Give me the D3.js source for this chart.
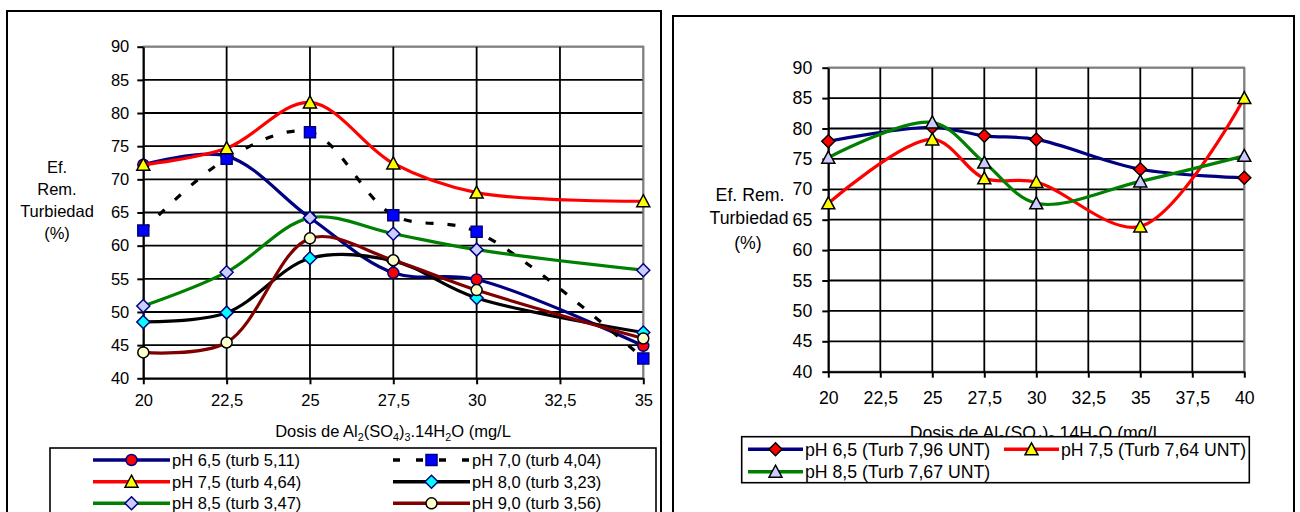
<!DOCTYPE html>
<html>
<head>
<meta charset="utf-8">
<script src="https://cdnjs.cloudflare.com/ajax/libs/d3/7.8.5/d3.min.js"></script>
<style>
  body { margin: 0; background: #fff; }
  svg { display: block; font-family: "Liberation Sans", Arial, sans-serif; }
</style>
</head>
<body>
<div id="visualization"></div>
<script>
// ---- data: left chart (dosis vs. eficiencia, 6 pH levels)
const dosesLeft = [20, 22.5, 25, 27.5, 30, 35];
const ph65Left = [72.2, 73.5, 64.2, 55.9, 54.9, 44.9];
const ph70Left = [62.3, 73.1, 77.1, 64.6, 62.1, 43.0];
const ph75Left = [72.2, 74.7, 81.6, 72.4, 68.0, 66.7];
const ph80Left = [48.5, 49.9, 58.1, 57.7, 52.1, 46.9];
const ph85Left = [50.9, 56.0, 64.2, 61.8, 59.4, 56.3];
const ph90Left = [43.9, 45.4, 61.1, 57.8, 53.3, 46.0];
const xTicksLeft = [20, 22.5, 25, 27.5, 30, 32.5, 35];

// ---- data: right chart (3 pH levels)
const dosesRight = [20, 25, 27.5, 30, 35, 40];
const ph65Right = [77.9, 80.2, 78.8, 78.2, 73.3, 71.9];
const ph75Right = [67.7, 78.2, 71.8, 71.2, 63.9, 85.0];
const ph85Right = [75.2, 81.0, 74.4, 67.7, 71.3, 75.5];
const xTicksRight = [20, 22.5, 25, 27.5, 30, 32.5, 35, 37.5, 40];

const yTicks = [40, 45, 50, 55, 60, 65, 70, 75, 80, 85, 90];

const fmt = d => String(d).replace('.', ',');

const leftSeries = [
    { name: 'pH 6,5 (turb 5,11)', values: ph65Left, line: '#000080', shape: 'circle', fill: '#ff0000', stroke: '#000080' },
    { name: 'pH 7,0 (turb 4,04)', values: ph70Left, line: '#000000', dash: '8,14', shape: 'square', fill: '#0000ff', stroke: '#000080' },
    { name: 'pH 7,5 (turb 4,64)', values: ph75Left, line: '#ff0000', shape: 'triangle', fill: '#ffff00', stroke: '#000000' },
    { name: 'pH 8,0 (turb 3,23)', values: ph80Left, line: '#000000', shape: 'diamond', fill: '#00ffff', stroke: '#000080' },
    { name: 'pH 8,5 (turb 3,47)', values: ph85Left, line: '#008000', shape: 'diamond', fill: '#ccccff', stroke: '#000080' },
    { name: 'pH 9,0 (turb 3,56)', values: ph90Left, line: '#800000', shape: 'circle', fill: '#ffffcc', stroke: '#000000' }
];

const rightSeries = [
    { name: 'pH 6,5 (Turb 7,96 UNT)', values: ph65Right, line: '#000080', shape: 'diamond', fill: '#ff0000', stroke: '#000000' },
    { name: 'pH 7,5 (Turb 7,64 UNT)', values: ph75Right, line: '#ff0000', shape: 'triangle', fill: '#ffff00', stroke: '#000000' },
    { name: 'pH 8,5 (Turb 7,67 UNT)', values: ph85Right, line: '#008000', shape: 'triangle', fill: '#ccccff', stroke: '#000000' }
];

const markerPath = (shape, s) => {
    const h = s / 2;
    if (shape === 'square') return `M${-h},${-h}H${h}V${h}H${-h}Z`;
    if (shape === 'diamond') return `M0,${-h - 1}L${h + 1},0L0,${h + 1}L${-h - 1},0Z`;
    if (shape === 'triangle') return `M0,${-h - 1}L${h + 1},${h}L${-h - 1},${h}Z`;
    return d3.arc()({ innerRadius: 0, outerRadius: h, startAngle: 0, endAngle: 2 * Math.PI });
};

const drawMarker = (g, d, x, y, size) => {
    g.append('path')
        .attr('d', markerPath(d.shape, size))
        .attr('transform', `translate(${x},${y})`)
        .attr('fill', d.fill)
        .attr('stroke', d.stroke)
        .attr('stroke-width', 1.5);
};

// x title with subscripts
const titleDosis = (g, x, y, size) => {
    const t = g.append('text')
        .attr('x', x).attr('y', y)
        .attr('text-anchor', 'middle')
        .attr('font-size', size);
    const parts = [['Dosis de Al'], ['2', 1], ['(SO'], ['4', 1], [')'], ['3', 1], ['.14H'], ['2', 1], ['O (mg/L']];
    let wasSub = false;
    parts.forEach(([txt, sub]) => {
        const ts = t.append('tspan').text(txt);
        if (sub) ts.attr('font-size', size * 0.65).attr('dy', wasSub ? 0 : 4);
        else ts.attr('dy', wasSub ? -4 : 0);
        wasSub = !!sub;
    });
    return t;
};

const makeChart = (svg, cfg, series, doses) => {
    const x = d3.scaleLinear().domain(cfg.xDomain).range(cfg.xRange);
    const y = d3.scaleLinear().domain([40, 90]).range(cfg.yRange);
    const g = svg.append('g');

    // outer frame
    g.append('rect')
        .attr('x', cfg.frame[0]).attr('y', cfg.frame[1])
        .attr('width', cfg.frame[2] - cfg.frame[0]).attr('height', 560)
        .attr('fill', 'none').attr('stroke', '#000').attr('stroke-width', 2);

    // plot area border (gray)
    g.append('rect')
        .attr('x', cfg.xRange[0]).attr('y', cfg.yRange[1])
        .attr('width', cfg.xRange[1] - cfg.xRange[0])
        .attr('height', cfg.yRange[0] - cfg.yRange[1])
        .attr('fill', 'none').attr('stroke', '#808080').attr('stroke-width', 2);

    // grid
    g.append('g')
        .selectAll('line').data(yTicks.slice(1)).enter().append('line')
            .attr('x1', cfg.xRange[0]).attr('x2', cfg.xRange[1])
            .attr('y1', d => y(d)).attr('y2', d => y(d))
            .attr('stroke', d => d === 90 ? '#808080' : '#000').attr('stroke-width', 1.8);
    g.append('g')
        .selectAll('line').data(cfg.xTicks.slice(1)).enter().append('line')
            .attr('x1', d => x(d)).attr('x2', d => x(d))
            .attr('y1', cfg.yRange[0]).attr('y2', cfg.yRange[1])
            .attr('stroke', d => d === cfg.xDomain[1] ? '#808080' : '#000').attr('stroke-width', 1.8);

    // axes
    const ax = g.append('g')
        .attr('transform', `translate(0,${cfg.yRange[0]})`)
        .call(d3.axisBottom(x).tickValues(cfg.xTicks).tickSize(6).tickSizeOuter(0).tickPadding(cfg.xPad).tickFormat(fmt));
    const ay = g.append('g')
        .attr('transform', `translate(${cfg.xRange[0]},0)`)
        .call(d3.axisLeft(y).tickValues(yTicks).tickSize(6).tickSizeOuter(0).tickPadding(cfg.yPad).tickFormat(fmt));
    [ax, ay].forEach(a => {
        a.selectAll('path, line').attr('stroke', '#000').attr('stroke-width', 2);
        a.selectAll('text').attr('font-size', cfg.font).attr('fill', '#000')
            .attr('font-family', '"Liberation Sans", Arial, sans-serif');
    });

    // y title
    cfg.yTitle.forEach(([txt, tx, ty]) => {
        g.append('text').attr('x', tx).attr('y', ty)
            .attr('text-anchor', 'middle').attr('font-size', cfg.font).text(txt);
    });

    // x title
    titleDosis(g, cfg.xTitle[0], cfg.xTitle[1], cfg.font);

    // series
    const line = d3.line()
        .x(d => x(d[0])).y(d => y(d[1]))
        .curve(d3.curveCatmullRom.alpha(0.5));
    series.forEach(s => {
        const pts = doses.map((dose, i) => [dose, s.values[i]]);
        g.append('path')
            .attr('d', line(pts))
            .attr('fill', 'none')
            .attr('stroke', s.line)
            .attr('stroke-width', 3.2)
            .attr('stroke-dasharray', s.dash || null);
        pts.forEach(p => drawMarker(g, s, x(p[0]), y(p[1]), cfg.marker));
    });

    // legend
    const lg = g.append('g');
    lg.append('rect')
        .attr('x', cfg.legend.box[0]).attr('y', cfg.legend.box[1])
        .attr('width', cfg.legend.box[2] - cfg.legend.box[0])
        .attr('height', cfg.legend.box[3] - cfg.legend.box[1])
        .attr('fill', '#fff').attr('stroke', '#000').attr('stroke-width', 1.6);
    series.forEach((s, i) => {
        const col = i % 2, row = Math.floor(i / 2);
        const x0 = cfg.legend.cols[col], ly = cfg.legend.rows[row];
        const x1 = x0 + cfg.legend.lineLen;
        lg.append('line')
            .attr('x1', x0).attr('x2', x1).attr('y1', ly).attr('y2', ly)
            .attr('stroke', s.line).attr('stroke-width', 3.6)
            .attr('stroke-dasharray', s.dash ? '7,16' : null);
        drawMarker(lg, s, (x0 + x1) / 2, ly, cfg.marker);
        lg.append('text')
            .attr('x', x1 + 2).attr('y', ly + cfg.font * 0.36)
            .attr('font-size', cfg.font).text(s.name);
    });
};

const svg = d3.select('#visualization').append('svg')
    .attr('width', 1300).attr('height', 512);

svg.append('rect').attr('width', 1300).attr('height', 512).attr('fill', '#fff');

makeChart(svg, {
    frame: [7, 11, 661],
    xDomain: [20, 35], xRange: [143.3, 643.3], yRange: [378.3, 46.7],
    xTicks: xTicksLeft, font: 16.5, xPad: 10, yPad: 8, marker: 11,
    yTitle: [['Ef.', 57, 173], ['Rem.', 57, 195], ['Turbiedad', 57, 217], ['(%)', 57, 239]],
    xTitle: [393, 437],
    legend: { box: [50, 448, 656, 560], cols: [93, 393], rows: [460, 481.7, 503.3], lineLen: 77 }
}, leftSeries, dosesLeft);

makeChart(svg, {
    frame: [673, 16, 1294],
    xDomain: [20, 40], xRange: [828.3, 1244.3], yRange: [371.7, 67.7],
    xTicks: xTicksRight, font: 17.7, xPad: 14, yPad: 10, marker: 11,
    yTitle: [['Ef. Rem.', 750, 201], ['Turbiedad', 749, 224], ['(%)', 748, 249]],
    xTitle: [1036, 439],
    legend: { box: [741.7, 436.7, 1249.3, 482.7], cols: [748, 1004], rows: [449.3, 471.7], lineLen: 55 }
}, rightSeries, dosesRight);
</script>
</body>
</html>
